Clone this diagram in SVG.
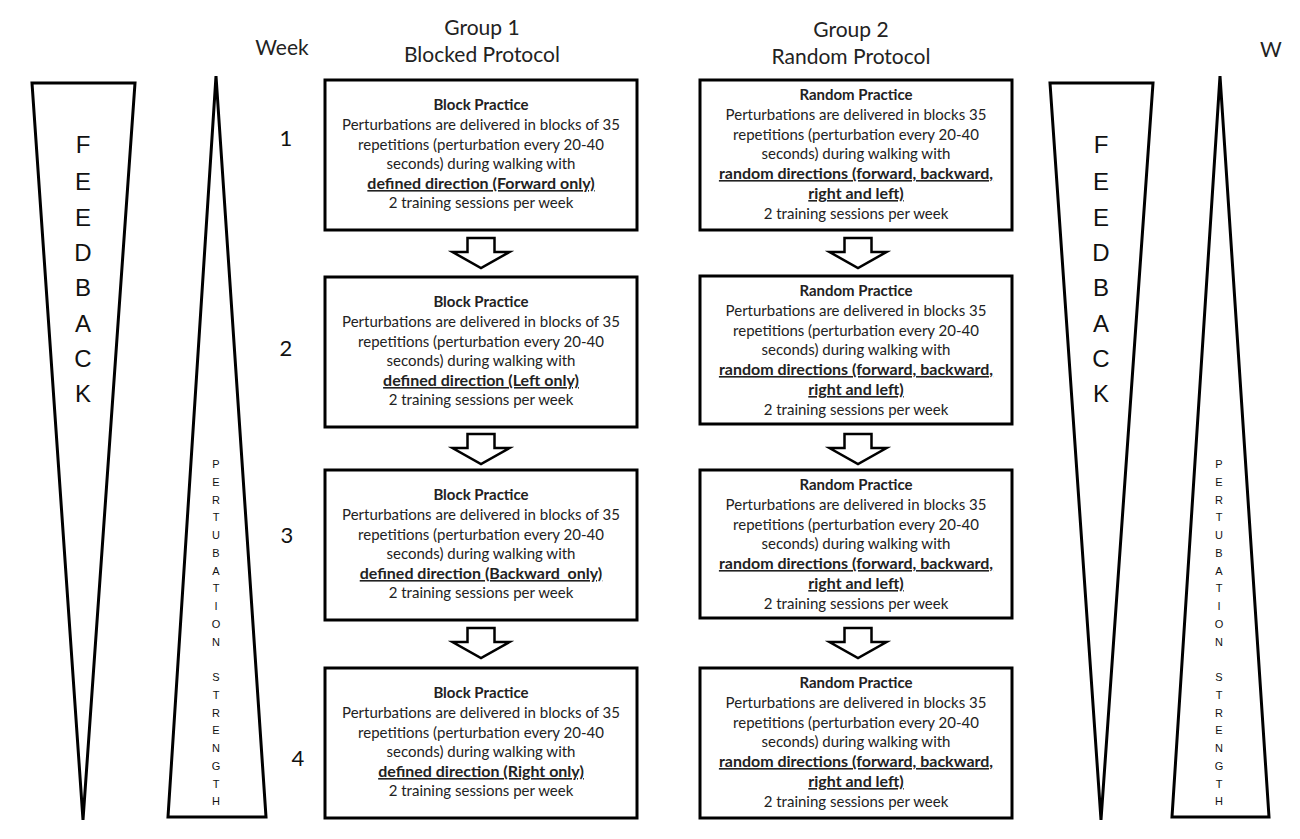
<svg xmlns="http://www.w3.org/2000/svg" xmlns:xlink="http://www.w3.org/1999/xlink" width="1300" height="839" viewBox="0 0 1300 839">
<style>
.bg{fill:#fff}
.box{fill:#fff;stroke:#000;stroke-width:3}
.tri{fill:#fff;stroke:#000;stroke-width:3;stroke-linejoin:miter}
.arr{fill:#fff;stroke:#000;stroke-width:2.5;stroke-linejoin:miter}
.t{font-family:Lato,"Liberation Sans",sans-serif;font-size:15px;fill:#222;text-anchor:middle}
.b{font-weight:bold}
.u{font-weight:bold;font-size:16px;text-decoration:underline}
.h{font-family:Lato,"Liberation Sans",sans-serif;font-size:21px;fill:#222;text-anchor:middle}
.wk{font-family:Lato,"Liberation Sans",sans-serif;font-size:22px;fill:#111;text-anchor:middle}
.fb{font-family:"Liberation Sans",sans-serif;font-size:24px;fill:#111;text-anchor:middle}
.ps{font-family:"Liberation Sans",sans-serif;font-size:11px;fill:#111;text-anchor:middle}
</style>
<defs>
<path id="arrow" class="arr" d="M-13.5,0 H13.5 V14 H28.5 L0,30 L-28.5,14 H-13.5 Z"/>
</defs>
<rect class="bg" x="0" y="0" width="1300" height="839"/>

<g id="headers">
<text class="h" x="282" y="55">Week</text>
<text class="h" x="482" y="35">Group 1</text>
<text class="h" x="482" y="62">Blocked Protocol</text>
<text class="h" x="851" y="37">Group 2</text>
<text class="h" x="851" y="64">Random Protocol</text>
<text class="h" x="1260" y="57" style="text-anchor:start">W</text>
</g>

<g id="feedback-left">
<polygon class="tri" points="32,83 135,83 83,820"/>
<text class="fb" x="83" y="153">F</text>
<text class="fb" x="83" y="190">E</text>
<text class="fb" x="83" y="226">E</text>
<text class="fb" x="83" y="261">D</text>
<text class="fb" x="83" y="296">B</text>
<text class="fb" x="83" y="332">A</text>
<text class="fb" x="83" y="367">C</text>
<text class="fb" x="83" y="402">K</text>
</g>

<g id="perturbation-left">
<polygon class="tri" points="216,76 266,817 168,817"/>
<text class="ps" x="216" y="468">P</text>
<text class="ps" x="216" y="486">E</text>
<text class="ps" x="216" y="504">R</text>
<text class="ps" x="216" y="521">T</text>
<text class="ps" x="216" y="539">U</text>
<text class="ps" x="216" y="557">B</text>
<text class="ps" x="216" y="575">A</text>
<text class="ps" x="216" y="592">T</text>
<text class="ps" x="216" y="610">I</text>
<text class="ps" x="216" y="628">O</text>
<text class="ps" x="216" y="646">N</text>
<text class="ps" x="216" y="681">S</text>
<text class="ps" x="216" y="699">T</text>
<text class="ps" x="216" y="717">R</text>
<text class="ps" x="216" y="734">E</text>
<text class="ps" x="216" y="752">N</text>
<text class="ps" x="216" y="770">G</text>
<text class="ps" x="216" y="788">T</text>
<text class="ps" x="216" y="805">H</text>
</g>

<g id="feedback-right">
<polygon class="tri" points="1050,83 1153,83 1101,820"/>
<text class="fb" x="1101" y="153">F</text>
<text class="fb" x="1101" y="190">E</text>
<text class="fb" x="1101" y="226">E</text>
<text class="fb" x="1101" y="261">D</text>
<text class="fb" x="1101" y="296">B</text>
<text class="fb" x="1101" y="332">A</text>
<text class="fb" x="1101" y="367">C</text>
<text class="fb" x="1101" y="402">K</text>
</g>

<g id="perturbation-right">
<polygon class="tri" points="1220,76 1269,817 1172,817"/>
<text class="ps" x="1219" y="468">P</text>
<text class="ps" x="1219" y="486">E</text>
<text class="ps" x="1219" y="504">R</text>
<text class="ps" x="1219" y="521">T</text>
<text class="ps" x="1219" y="539">U</text>
<text class="ps" x="1219" y="557">B</text>
<text class="ps" x="1219" y="575">A</text>
<text class="ps" x="1219" y="592">T</text>
<text class="ps" x="1219" y="610">I</text>
<text class="ps" x="1219" y="628">O</text>
<text class="ps" x="1219" y="646">N</text>
<text class="ps" x="1219" y="681">S</text>
<text class="ps" x="1219" y="699">T</text>
<text class="ps" x="1219" y="717">R</text>
<text class="ps" x="1219" y="734">E</text>
<text class="ps" x="1219" y="752">N</text>
<text class="ps" x="1219" y="770">G</text>
<text class="ps" x="1219" y="788">T</text>
<text class="ps" x="1219" y="805">H</text>
</g>

<g id="weeks">
<text class="wk" x="286" y="146">1</text>
<text class="wk" x="286" y="356">2</text>
<text class="wk" x="287" y="543">3</text>
<text class="wk" x="298" y="766">4</text>
</g>

<g id="block-1">
<rect class="box" x="325" y="80" width="312" height="150"/>
<text class="t b" x="481" y="110">Block Practice</text>
<text class="t" x="481" y="130">Perturbations are delivered in blocks of 35</text>
<text class="t" x="481" y="150">repetitions (perturbation every 20-40</text>
<text class="t" x="481" y="169">seconds) during walking with</text>
<text class="t u" x="481" y="189">defined direction (Forward only)</text>
<text class="t" x="481" y="208">2 training sessions per week</text>
</g>

<g id="block-2">
<rect class="box" x="325" y="277" width="312" height="150"/>
<text class="t b" x="481" y="307">Block Practice</text>
<text class="t" x="481" y="327">Perturbations are delivered in blocks of 35</text>
<text class="t" x="481" y="347">repetitions (perturbation every 20-40</text>
<text class="t" x="481" y="366">seconds) during walking with</text>
<text class="t u" x="481" y="386">defined direction (Left only)</text>
<text class="t" x="481" y="405">2 training sessions per week</text>
</g>

<g id="block-3">
<rect class="box" x="325" y="470" width="312" height="150"/>
<text class="t b" x="481" y="500">Block Practice</text>
<text class="t" x="481" y="520">Perturbations are delivered in blocks of 35</text>
<text class="t" x="481" y="540">repetitions (perturbation every 20-40</text>
<text class="t" x="481" y="559">seconds) during walking with</text>
<text class="t u" x="481" y="579" xml:space="preserve">defined direction (Backward  only)</text>
<text class="t" x="481" y="598">2 training sessions per week</text>
</g>

<g id="block-4">
<rect class="box" x="325" y="668" width="312" height="150"/>
<text class="t b" x="481" y="698">Block Practice</text>
<text class="t" x="481" y="718">Perturbations are delivered in blocks of 35</text>
<text class="t" x="481" y="738">repetitions (perturbation every 20-40</text>
<text class="t" x="481" y="757">seconds) during walking with</text>
<text class="t u" x="481" y="777">defined direction (Right only)</text>
<text class="t" x="481" y="796">2 training sessions per week</text>
</g>

<g id="random-1">
<rect class="box" x="700" y="80" width="312" height="150"/>
<text class="t b" x="856" y="100">Random Practice</text>
<text class="t" x="856" y="120">Perturbations are delivered in blocks 35</text>
<text class="t" x="856" y="140">repetitions (perturbation every 20-40</text>
<text class="t" x="856" y="159">seconds) during walking with</text>
<text class="t u" x="856" y="179">random directions (forward, backward,</text>
<text class="t u" x="856" y="199">right and left)</text>
<text class="t" x="856" y="219">2 training sessions per week</text>
</g>

<g id="random-2">
<rect class="box" x="700" y="276" width="312" height="148"/>
<text class="t b" x="856" y="296">Random Practice</text>
<text class="t" x="856" y="316">Perturbations are delivered in blocks 35</text>
<text class="t" x="856" y="336">repetitions (perturbation every 20-40</text>
<text class="t" x="856" y="355">seconds) during walking with</text>
<text class="t u" x="856" y="375">random directions (forward, backward,</text>
<text class="t u" x="856" y="395">right and left)</text>
<text class="t" x="856" y="415">2 training sessions per week</text>
</g>

<g id="random-3">
<rect class="box" x="700" y="470" width="312" height="148"/>
<text class="t b" x="856" y="490">Random Practice</text>
<text class="t" x="856" y="510">Perturbations are delivered in blocks 35</text>
<text class="t" x="856" y="530">repetitions (perturbation every 20-40</text>
<text class="t" x="856" y="549">seconds) during walking with</text>
<text class="t u" x="856" y="569">random directions (forward, backward,</text>
<text class="t u" x="856" y="589">right and left)</text>
<text class="t" x="856" y="609">2 training sessions per week</text>
</g>

<g id="random-4">
<rect class="box" x="700" y="668" width="312" height="150"/>
<text class="t b" x="856" y="688">Random Practice</text>
<text class="t" x="856" y="708">Perturbations are delivered in blocks 35</text>
<text class="t" x="856" y="728">repetitions (perturbation every 20-40</text>
<text class="t" x="856" y="747">seconds) during walking with</text>
<text class="t u" x="856" y="767">random directions (forward, backward,</text>
<text class="t u" x="856" y="787">right and left)</text>
<text class="t" x="856" y="807">2 training sessions per week</text>
</g>

<g id="connectors">
<use xlink:href="#arrow" href="#arrow" x="481" y="238"/>
<use xlink:href="#arrow" href="#arrow" x="481" y="434"/>
<use xlink:href="#arrow" href="#arrow" x="481" y="628"/>
<use xlink:href="#arrow" href="#arrow" x="858" y="238"/>
<use xlink:href="#arrow" href="#arrow" x="858" y="434"/>
<use xlink:href="#arrow" href="#arrow" x="858" y="628"/>
</g>
</svg>
